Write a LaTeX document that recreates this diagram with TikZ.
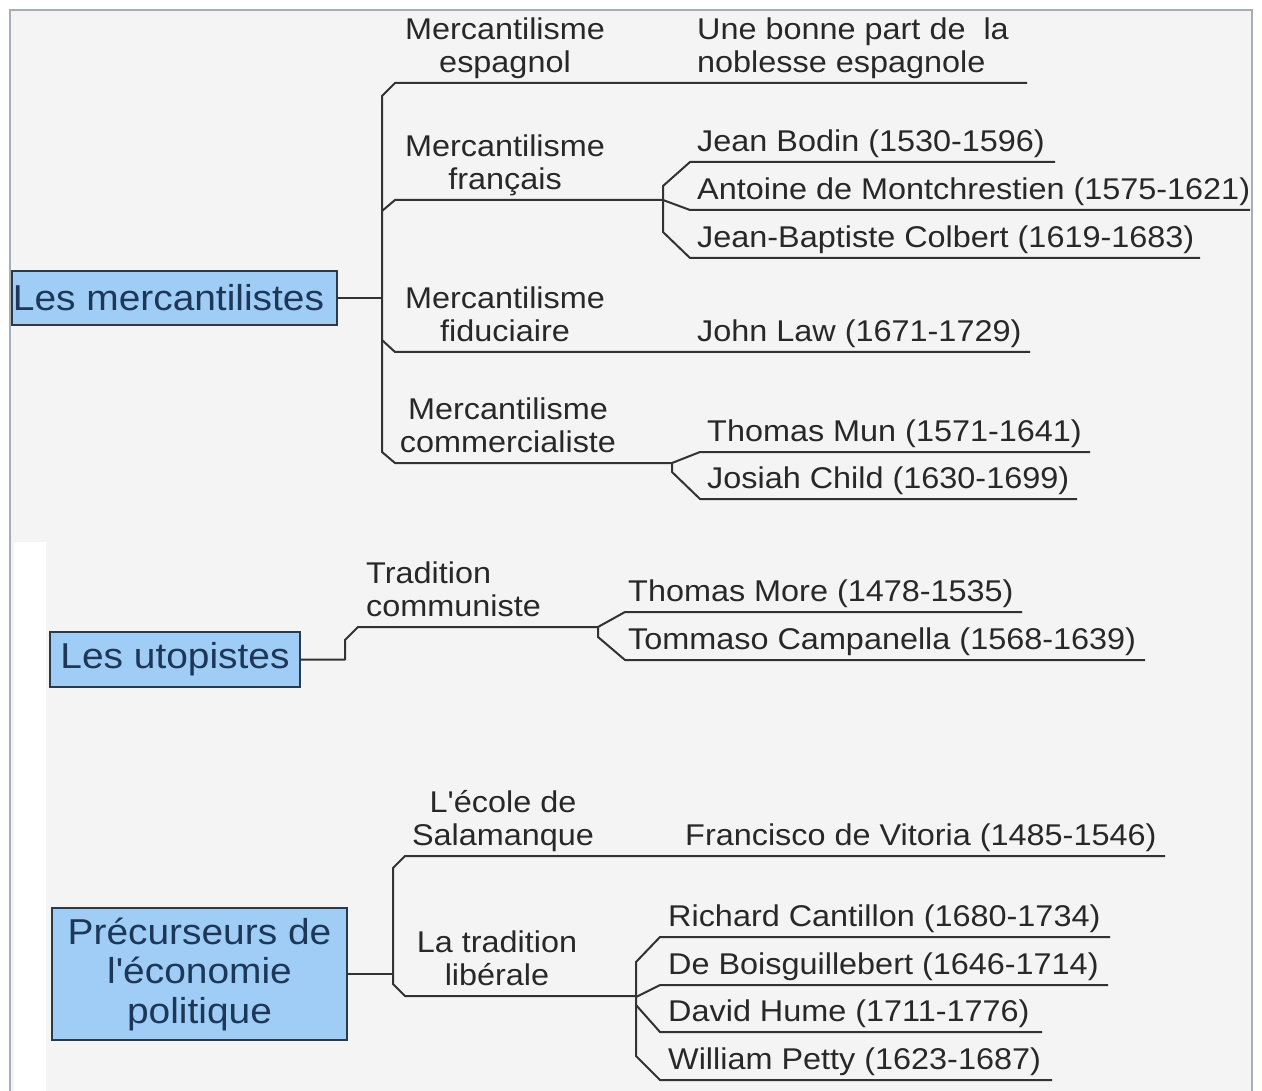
\documentclass[tikz,border=0pt]{standalone}
\usepackage{fontspec}
\setmainfont{Liberation Sans}
\newfontfamily\labfont[FakeStretch=1.08]{Liberation Sans}
\definecolor{bgc}{RGB}{244,244,244}
\definecolor{framec}{RGB}{166,174,182}
\definecolor{linec}{RGB}{50,50,50}
\definecolor{txtc}{RGB}{40,40,40}
\definecolor{boxf}{RGB}{160,205,245}
\definecolor{boxd}{RGB}{43,58,74}
\definecolor{boxt}{RGB}{28,55,88}
\begin{document}
\begin{tikzpicture}[x=1pt,y=-1pt,
  lbl/.style={font=\labfont\fontsize{30}{33.5}\selectfont, text=txtc, inner sep=0pt, align=center, anchor=south},
  leaf/.style={lbl, align=left, anchor=south west},
  mainbox/.style={draw=boxd, fill=boxf, line width=1.6pt, font=\labfont\fontsize{36}{39.5}\selectfont, text=boxt, align=center, inner sep=0pt},
  br/.style={draw=linec, line width=2pt, line join=round}]
\useasboundingbox (0,0) rectangle (1262,1091);
\fill[white] (0,0) rectangle (1262,1091);
\filldraw[fill=bgc, draw=framec, line width=2.5pt] (10,10) rectangle (1252,1110);
\fill[white] (14,542) rectangle (46,1091);

% ---------- Les mercantilistes ----------
\node[mainbox, minimum width=325, minimum height=54] (m) at (174.5,298) {Les mercantilistes\hspace*{12pt}};
\coordinate (mJ) at (382,298);
\coordinate (frJ) at (663,200);
\coordinate (coJ) at (672,463);
\draw[br] (m.east) -- (mJ);
\draw[br] (1027,83) -- (395,83) -- (382,96) -- (382,452) -- (395,463) -- (coJ);
\draw[br] (382,211) -- (395,200) -- (frJ);
\draw[br] (382,340) -- (395,352) -- (1030,352);
% francais
\draw[br] (1055,162) -- (690,162) -- (663,186) -- (663,232) -- (690,258) -- (1200,258);
\draw[br] (frJ) -- (690,210) -- (1250,210);
% commercialiste
\draw[br] (1090,452) -- (700,452) -- (coJ) -- (672,472) -- (700,499) -- (1077,499);

\node[lbl] (lesp) at (505,83) {\strut Mercantilisme\\\strut espagnol};
\node[leaf] (nesp) at (697,83) {\strut Une bonne part de\ \ la\\\strut noblesse espagnole};
\node[lbl] (lfr) at (505,200) {\strut Mercantilisme\\\strut français};
\node[leaf] (n1) at (697,162) {\strut Jean Bodin (1530-1596)};
\node[leaf] (n2) at (697,210) {\strut Antoine de Montchrestien (1575-1621)};
\node[leaf] (n3) at (697,258) {\strut Jean-Baptiste Colbert (1619-1683)};
\node[lbl] (lfid) at (505,352) {\strut Mercantilisme\\\strut fiduciaire};
\node[leaf] (n4) at (697,352) {\strut John Law (1671-1729)};
\node[lbl] (lcom) at (508,463) {\strut Mercantilisme\\\strut commercialiste};
\node[leaf] (n5) at (707,452) {\strut Thomas Mun (1571-1641)};
\node[leaf] (n6) at (707,499) {\strut Josiah Child (1630-1699)};

% ---------- Les utopistes ----------
\node[mainbox, minimum width=250, minimum height=55] (u) at (175,659.5) {Les utopistes};
\coordinate (uJ) at (598,627);
\draw[br] (u.east) -- (345,659.5) -- (345,640) -- (358,627) -- (uJ);
\draw[br] (1022,612) -- (625,612) -- (uJ) -- (598,637) -- (625,660) -- (1145,660);
\node[leaf] (ltr) at (366,627) {\strut Tradition\\\strut communiste};
\node[leaf] (n7) at (628,612) {\strut Thomas More (1478-1535)};
\node[leaf] (n8) at (628,660) {\strut Tommaso Campanella (1568-1639)};

% ---------- Precurseurs ----------
\node[mainbox, minimum width=295, minimum height=132] (p) at (199.5,974) {Précurseurs de\\l'économie\\politique};
\coordinate (pJ) at (393,974);
\coordinate (liJ) at (636,996);
\draw[br] (p.east) -- (pJ);
\draw[br] (1165,856) -- (405,856) -- (393,868) -- (393,984) -- (405,996) -- (liJ);
\draw[br] (1110,937) -- (660,937) -- (636,962) -- (636,1056) -- (660,1080) -- (1052,1080);
\draw[br] (636,997) -- (660,985) -- (1108,985);
\draw[br] (636,1005) -- (660,1032) -- (1042,1032);
\node[lbl] (lsal) at (503,856) {\strut L'école de\\\strut Salamanque};
\node[leaf] (n9) at (685,856) {\strut Francisco de Vitoria (1485-1546)};
\node[lbl] (llib) at (497,996) {\strut La tradition\\\strut libérale};
\node[leaf] (n10) at (668,937) {\strut Richard Cantillon (1680-1734)};
\node[leaf] (n11) at (668,985) {\strut De Boisguillebert (1646-1714)};
\node[leaf] (n12) at (668,1032) {\strut David Hume (1711-1776)};
\node[leaf] (n13) at (668,1080) {\strut William Petty (1623-1687)};
\end{tikzpicture}
\end{document}
